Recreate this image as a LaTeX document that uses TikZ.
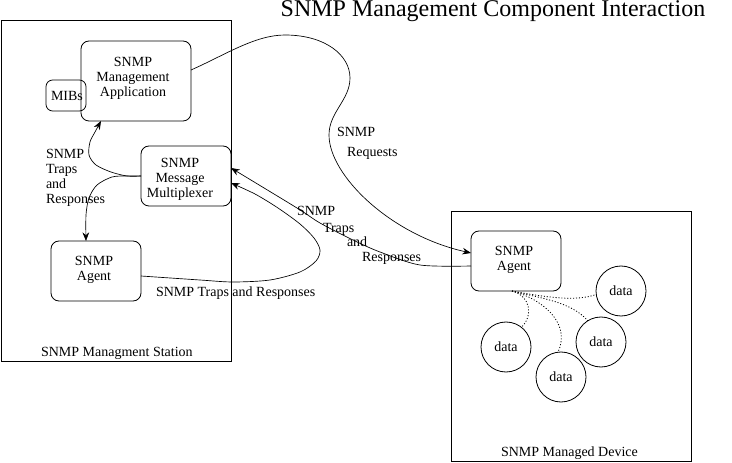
\documentclass[tikz,border=0pt]{standalone}
\usepackage{fontspec}
\setmainfont{Liberation Serif}
\usetikzlibrary{arrows.meta,calc}
\begin{document}
\begin{tikzpicture}[x=0.75pt,y=-0.75pt,
  every node/.style={font=\fontsize{10.5}{11.25}\selectfont, inner sep=0pt, outer sep=0pt},
  frame/.style={draw, line width=0.6pt},
  rbox/.style={draw, line width=0.6pt, rounded corners=6pt},
  txt/.style={align=center},
  datac/.style={draw, circle, line width=0.6pt, minimum size=37.5pt},
  lbl/.style={anchor=base west},
  conn/.style={line width=0.5pt},
  arr/.style={conn, -{Stealth[length=6.5pt,width=5pt]}},
  dot/.style={line width=0.6pt, dash pattern=on 0.8pt off 1.4pt}]
\useasboundingbox (0,0) rectangle (732,463);

% title
\node[anchor=base, font=\fontsize{18}{20}\selectfont] (title) at (493,17) {SNMP Management Component Interaction};

% management station
\node[frame, minimum width=172.5pt, minimum height=255.75pt] (station) at (116,190.5) {};
\node[lbl] (stationlbl) at (41,356.3) {SNMP Managment Station};

\node[rbox, minimum width=82.5pt, minimum height=60pt] (app) at (136,81) {};
\node[txt] (apptxt) at (133,78) {SNMP\\Management\\Application};

\node[rbox, rounded corners=5pt, minimum width=30pt, minimum height=23.25pt] (mibs) at (66,95.5) {};
\node (mibstxt) at (67,95.7) {MIBs};

\node[rbox, minimum width=67.5pt, minimum height=45pt] (mux) at (186,176) {};
\node[txt] (muxtxt) at (180,179) {SNMP\\Message\\Multiplexer};

\node[rbox, minimum width=67.5pt, minimum height=45pt] (sagent) at (96,271) {};
\node[txt] (sagenttxt) at (94,270.3) {SNMP\\Agent};

% managed device
\node[frame, minimum width=180pt, minimum height=187.5pt] (device) at (571,336) {};
\node[lbl] (devicelbl) at (501,456.3) {SNMP Managed Device};

\node[rbox, minimum width=67.5pt, minimum height=45pt] (dagent) at (516,261) {};
\node[txt] (dagenttxt) at (514,260.3) {SNMP\\Agent};

\node[datac] (c1) at (621,291) {data};
\node[datac] (c2) at (601,342) {data};
\node[datac] (c3) at (506,347) {data};
\node[datac] (c4) at (561,377) {data};

% dotted links
\draw[dot] ([xshift=-3pt]dagent.south) .. controls (545,297) and (575,302) .. (c1.188);
\draw[dot] ([xshift=-3pt]dagent.south) .. controls (540,298) and (572,302) .. (c2.122);
\draw[dot] ([xshift=-3pt]dagent.south) .. controls (540,298) and (572,322) .. (c4.97);
\draw[dot] ([xshift=-3pt]dagent.south) .. controls (530,296) and (534,315) .. (c3.52);

% requests
\draw[arr] ([yshift=8.25pt]app.east) .. controls (225,55) and (255,35) .. (285,35)
  .. controls (325,35) and (350,55) .. (350,78)
  .. controls (350,100) and (329,112) .. (329,135)
  .. controls (329,175) and (390,235) .. ([yshift=6pt]dagent.west);
\node[lbl] (reqa) at (337,136.3) {SNMP};
\node[lbl] (reqb) at (347,156.3) {Requests};

% device agent -> multiplexer
\draw[arr] plot[smooth] coordinates {([yshift=-3.75pt]dagent.west) (420,265) (380,252) (353,240) (320,223) (297,208) ([yshift=6pt]mux.east)};
\node[lbl] (tra) at (297,216) {SNMP};
\node[lbl] (trb) at (323,233) {Traps};
\node[lbl] (trc) at (347,246.3) {and};
\node[lbl] (trd) at (362,261.9) {Responses};

% station agent -> multiplexer
\draw[arr] plot[smooth] coordinates {([yshift=-3.75pt]sagent.east) (200,280) (233,282) (270,280) (300,272) (316,261) (320,250) (314,238) (300,224) (278,208) (255,194) ([yshift=-5.25pt]mux.east)};
\node[lbl] (stl) at (156,296.3) {SNMP Traps and Responses};

% multiplexer -> application / agent
\draw[arr] plot[smooth] coordinates {(mux.west) (127,176) (111,172) (96,165) (89,155) (90,142) (95,132) ([xshift=-26.25pt]app.south)};
\draw[arr] plot[smooth] coordinates {(mux.west) (127,176) (112,177) (97,185) (89,198) (86,215) ([xshift=-7.5pt]sagent.north)};
\node[anchor=west, align=left] (leftlbl) at (46,177.4) {SNMP\\Traps\\and\\Responses};
\end{tikzpicture}
\end{document}
